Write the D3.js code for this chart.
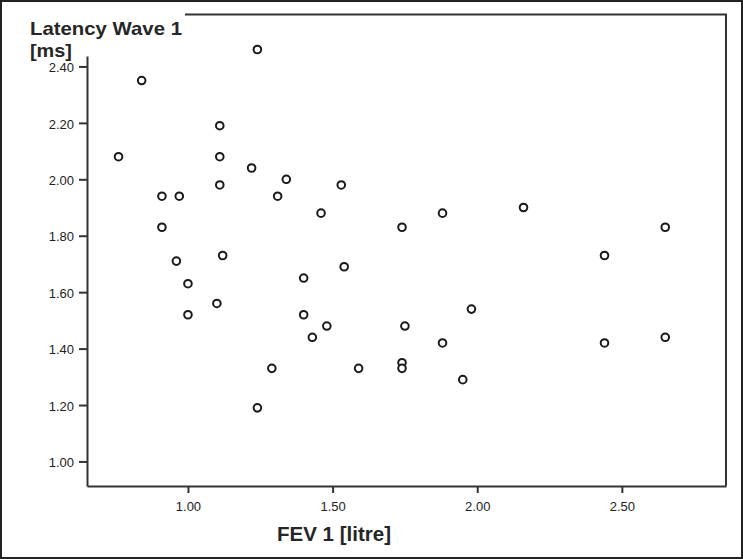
<!DOCTYPE html>
<html><head><meta charset="utf-8">
<script src="https://cdn.jsdelivr.net/npm/d3@7"></script>
<style>
html,body{margin:0;padding:0;background:#fff;}
svg{display:block;font-family:"Liberation Sans",Arial,sans-serif;}
</style></head>
<body><svg id="c" width="743" height="559"></svg>
<script>
const fev = [0.76,0.84,0.91,0.97,0.91,0.96,1.00,1.00,1.10,1.11,1.11,1.11,1.12,1.24,1.22,1.29,1.24,1.31,1.34,1.46,1.40,1.40,1.43,1.48,1.53,1.54,1.59,1.74,1.74,1.74,1.75,1.88,1.88,1.95,1.98,2.16,2.44,2.44,2.65,2.65];
const latency = [2.08,2.35,1.94,1.94,1.83,1.71,1.63,1.52,1.56,2.19,2.08,1.98,1.73,2.46,2.04,1.33,1.19,1.94,2.00,1.88,1.65,1.52,1.44,1.48,1.98,1.69,1.33,1.83,1.35,1.33,1.48,1.88,1.42,1.29,1.54,1.90,1.73,1.42,1.83,1.44];
const xTicks = [1.0,1.5,2.0,2.5];
const yTicks = [1.0,1.2,1.4,1.6,1.8,2.0,2.2,2.4];
const yTitle = ["Latency Wave 1","[ms]"];
const xTitle = "FEV 1 [litre]";

const svg = d3.select("#c");
const L=87, R=726, T=56, B=486;
const x = d3.scaleLinear().domain([0.651,2.86]).range([L,R]);
const y = d3.scaleLinear().domain([0.913,2.437]).range([B,T]);

// outer border
svg.append("rect").attr("x",1).attr("y",1).attr("width",741).attr("height",557)
  .attr("fill","#fff").attr("stroke","#222").attr("stroke-width",2);

// frame top & right
svg.append("path").attr("d",`M185,14.5H${R}V${B}`).attr("fill","none")
  .attr("stroke","#333").attr("stroke-width",2);

const ax = svg.append("g").attr("transform",`translate(0,${B})`)
  .call(d3.axisBottom(x).tickValues(xTicks).tickFormat(d3.format(".2f")).tickSize(7).tickSizeOuter(0));
const ay = svg.append("g").attr("transform",`translate(${L},0)`)
  .call(d3.axisLeft(y).tickValues(yTicks).tickFormat(d3.format(".2f")).tickSize(8).tickSizeOuter(0));
[ax,ay].forEach(g=>{
  g.select(".domain").attr("stroke","#333").attr("stroke-width",2);
  g.selectAll(".tick line").attr("stroke","#333").attr("stroke-width",2);
  g.selectAll(".tick text").attr("fill","#222").attr("font-size",13)
   .attr("font-family","'Liberation Sans',Arial,sans-serif");
});
ax.selectAll(".tick text").attr("y",25).attr("dy",0);
ay.selectAll(".tick text").attr("x",-13).attr("dy","0.4em");

svg.append("g").selectAll("circle").data(fev.map((f,i)=>[f,latency[i]])).join("circle")
  .attr("cx",d=>x(d[0])).attr("cy",d=>y(d[1])).attr("r",3.8)
  .attr("fill","#fff").attr("stroke","#1a1a1a").attr("stroke-width",2);

svg.append("text").attr("x",30).attr("y",35).attr("font-size",19).attr("font-weight","bold")
  .attr("fill","#262626").attr("textLength",152).attr("lengthAdjust","spacingAndGlyphs").text(yTitle[0]);
svg.append("text").attr("x",30).attr("y",57).attr("font-size",19).attr("font-weight","bold")
  .attr("fill","#262626").attr("textLength",42).attr("lengthAdjust","spacingAndGlyphs").text(yTitle[1]);
svg.append("text").attr("x",277).attr("y",541).attr("font-size",20)
  .attr("font-weight","bold").attr("fill","#262626").attr("textLength",114)
  .attr("lengthAdjust","spacingAndGlyphs").text(xTitle);
</script></body></html>
